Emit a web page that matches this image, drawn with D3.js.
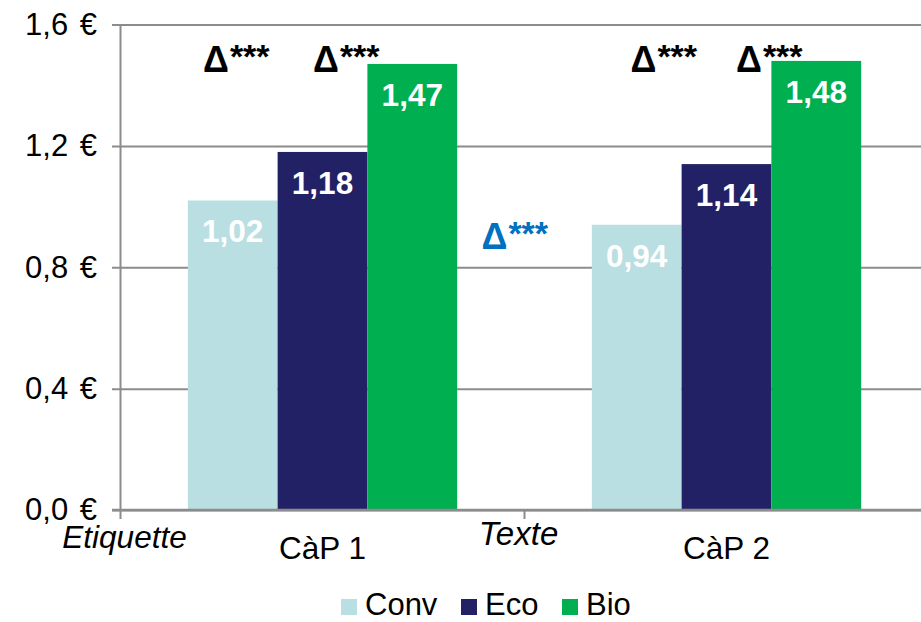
<!DOCTYPE html>
<html>
<head>
<meta charset="utf-8">
<script src="https://cdn.jsdelivr.net/npm/d3@7"></script>
<style>
  body { margin: 0; background: #fff; }
  text { font-family: Arial, "Liberation Sans", sans-serif; }
</style>
</head>
<body>
<div id="chart"></div>
<script>
var width = 921;
var height = 622;

// data
var categories = ["CàP 1", "CàP 2"];
var series = ["Conv", "Eco", "Bio"];
var conv = [1.02, 0.94];
var eco = [1.18, 1.14];
var bio = [1.47, 1.48];
var yTicks = [0, 0.4, 0.8, 1.2, 1.6];
var colors = ["#B9DFE3", "#232166", "#00AF50"];

var values = [conv, eco, bio];

var svg = d3.select("#chart")
    .append("svg")
    .attr("width", width)
    .attr("height", height);

var x = d3.scaleBand()
    .domain(categories)
    .range([120.5, 928.5])
    .padding(0);

var xs = d3.scaleBand()
    .domain(series)
    .range([0, x.bandwidth()])
    .paddingInner(0)
    .paddingOuter(0.75);

var y = d3.scaleLinear()
    .domain([0, 1.6])
    .range([510, 24.5]);

var fmt = function (v) { return d3.format(".2f")(v).replace(".", ","); };

// gridlines + y labels
var yAxis = svg.append("g")
    .attr("transform", "translate(120.5,0)")
    .call(d3.axisLeft(y)
        .tickValues(yTicks)
        .tickSize(8.5)
        .tickPadding(15)
        .tickFormat(function (d) { return d3.format(".1f")(d).replace(".", ",") + " €"; }));
yAxis.select(".domain").remove();
yAxis.selectAll(".tick line")
    .attr("x1", -8.5)
    .attr("x2", width)
    .attr("stroke", "#8c8c8c")
    .attr("stroke-width", 2);
yAxis.selectAll(".tick text")
    .attr("font-size", 31)
    .attr("word-spacing", 3)
    .attr("fill", "#000")
    .style("font-family", "Arial, 'Liberation Sans', sans-serif");

// bars
categories.forEach(function (c, ci) {
    series.forEach(function (s, si) {
        var v = values[si][ci];
        var bx = x(c) + xs(s);
        svg.append("rect")
            .attr("x", bx)
            .attr("y", y(v))
            .attr("width", xs.bandwidth())
            .attr("height", y(0) - y(v))
            .attr("fill", colors[si]);
        svg.append("text")
            .attr("x", bx + xs.bandwidth() / 2)
            .attr("y", y(v) + 42)
            .attr("text-anchor", "middle")
            .attr("font-size", 31.5)
            .attr("font-weight", "bold")
            .attr("fill", "#fff")
            .text(fmt(v));
    });
});

// y axis line and x axis line
svg.append("line")
    .attr("x1", 120.5).attr("x2", 120.5)
    .attr("y1", y(1.6)).attr("y2", 519)
    .attr("stroke", "#8c8c8c").attr("stroke-width", 2);
svg.append("line")
    .attr("x1", 112).attr("x2", width)
    .attr("y1", y(0)).attr("y2", y(0))
    .attr("stroke", "#8c8c8c").attr("stroke-width", 2.5);
svg.append("line")
    .attr("x1", x(categories[1])).attr("x2", x(categories[1]))
    .attr("y1", y(0)).attr("y2", 519)
    .attr("stroke", "#8c8c8c").attr("stroke-width", 2);

// category labels
categories.forEach(function (c) {
    svg.append("text")
        .attr("x", x(c) + x.bandwidth() / 2)
        .attr("y", 559)
        .attr("text-anchor", "middle")
        .attr("font-size", 31.5)
        .text(c);
});

// free text labels at the boundaries
var extraLabels = ["Etiquette", "Texte"];
svg.append("text")
    .attr("x", x(categories[0]) + 4)
    .attr("y", 548)
    .attr("text-anchor", "middle")
    .attr("font-size", 31.5)
    .attr("font-style", "italic")
    .text(extraLabels[0]);
svg.append("text")
    .attr("x", x(categories[1]) - 6)
    .attr("y", 545)
    .attr("text-anchor", "middle")
    .attr("font-size", 33)
    .attr("font-style", "italic")
    .text(extraLabels[1]);

// significance marks
var marks = [
    {cat: 0, dx: -119.5, dy: 71.7, color: "#000"},
    {cat: 0, dx: -9.5, dy: 71.7, color: "#000"},
    {cat: 1, dx: -96, dy: 71.7, color: "#000"},
    {cat: 1, dx: 9.5, dy: 71.7, color: "#000"},
    {cat: 1, dx: -245, dy: 249, color: "#0070C0"}
];
marks.forEach(function (m) {
    var t = svg.append("text")
        .attr("x", x(categories[m.cat]) + x.bandwidth() / 2 + m.dx)
        .attr("y", m.dy)
        .attr("font-size", 36)
        .attr("font-weight", "bold")
        .attr("fill", m.color);
    t.append("tspan").text("Δ");
    t.append("tspan").attr("dy", -4).attr("dx", 1).attr("font-size", 34).text("***");
});

// legend
var legend = svg.append("g");
var legX = [341, 461, 562];
series.forEach(function (s, i) {
    legend.append("rect")
        .attr("x", legX[i]).attr("y", 599)
        .attr("width", 16).attr("height", 16)
        .attr("fill", colors[i]);
    legend.append("text")
        .attr("x", legX[i] + 24)
        .attr("y", 615)
        .attr("font-size", 31)
        .text(s);
});
</script>
</body>
</html>
